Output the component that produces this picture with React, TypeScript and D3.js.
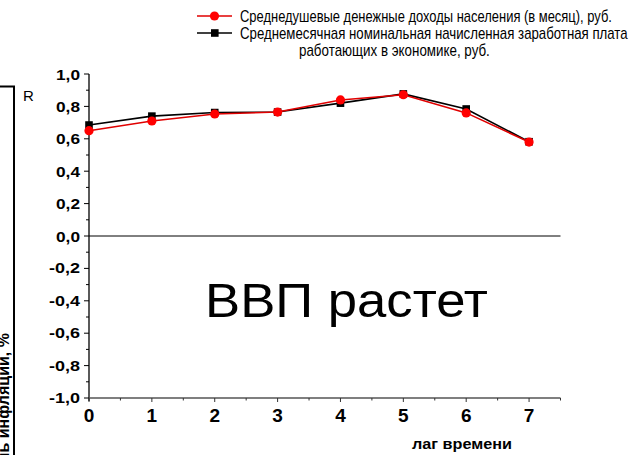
import React, { useLayoutEffect, useRef, useState } from "react";
import * as d3 from "d3";

const lags = [0, 1, 2, 3, 4, 5, 6, 7];
const incomeR = [0.65, 0.71, 0.753, 0.765, 0.84, 0.872, 0.76, 0.58];
const wageR = [0.685, 0.74, 0.762, 0.765, 0.82, 0.877, 0.784, 0.582];
const yTicks = [1.0, 0.8, 0.6, 0.4, 0.2, 0.0, -0.2, -0.4, -0.6, -0.8, -1.0];
const xTicks = [0, 1, 2, 3, 4, 5, 6, 7];
const legend1 = "Среднедушевые денежные доходы населения (в месяц), руб.";
const legend2a = "Среднемесячная номинальная начисленная заработная плата";
const legend2b = "работающих в экономике, руб.";
const yLabel = "R";
const xLabel = "лаг времени";
const bigText = "ВВП растет";
const sideText = "Уровень инфляции, %";

const FONT = "'Liberation Sans', Arial, sans-serif";

type FitProps = {
  x: number; y: number; width: number; anchor?: "start" | "middle" | "end";
  sy?: number; fontSize: number; fontWeight?: string; baseline?: string; children: string;
};

function FitText({ x, y, width, anchor = "start", sy = 1, fontSize, fontWeight, baseline, children }: FitProps) {
  const ref = useRef<SVGTextElement>(null);
  const [sx, setSx] = useState(1);
  useLayoutEffect(() => {
    if (ref.current) {
      const len = ref.current.getComputedTextLength();
      if (len > 0) setSx(width / len);
    }
  }, [width, children, fontSize]);
  return (
    <text ref={ref} transform={`translate(${x},${y}) scale(${sx},${sy})`} textAnchor={anchor}
      fontSize={fontSize} fontWeight={fontWeight} dominantBaseline={baseline}>
      {children}
    </text>
  );
}

export default function App() {
  const W = 644, H = 455;
  const x = d3.scaleLinear().domain([0, 7.5]).range([89, 560.5]);
  const y = d3.scaleLinear().domain([-1, 1]).range([398, 74]);
  const line = d3.line<number>().x((_, i) => x(lags[i])).y((d) => y(d));
  const fmt = (v: number) => v.toFixed(1).replace(".", ",");
  const minorY = d3.range(-10, 11).map((k) => k / 10);
  const minorX = d3.range(0, 16).map((k) => k / 2);

  return (
    <svg width={W} height={H} style={{ position: "absolute", left: 0, top: 0, background: "#fff" }} fontFamily={FONT}>
      <rect x={0} y={0} width={W} height={H} fill="#fff" />
      {/* left frame fragment */}
      <path d="M0,86.5 H14 V455" fill="none" stroke="#000" strokeWidth={2} />
      <text transform="translate(8.5,333) rotate(-90)" textAnchor="end" fontSize={16} fontWeight="bold">{sideText}</text>
      <text x={23} y={101} fontSize={15}>{yLabel}</text>

      {/* zero line */}
      <line x1={x(0)} x2={x(7.5)} y1={y(0)} y2={y(0)} stroke="#000" strokeWidth={1} />

      {/* y axis */}
      <line x1={x(0)} x2={x(0)} y1={y(1)} y2={y(-1) + 3} stroke="#000" strokeWidth={1.3} />
      {minorY.map((v, i) => (
        <line key={"my" + i} x1={x(0) - (i % 2 === 0 ? 5 : 3)} x2={x(0)} y1={y(v)} y2={y(v)} stroke="#000" strokeWidth={1} />
      ))}
      {yTicks.map((v, i) => (
        <FitText key={"yl" + i} x={80} y={y(v)} width={v < 0 ? 31 : 24} anchor="end" sy={0.82} fontSize={18.5} fontWeight="bold" baseline="central">
          {fmt(v)}
        </FitText>
      ))}

      {/* x axis */}
      <line x1={x(0)} x2={x(7.5)} y1={y(-1)} y2={y(-1)} stroke="#555" strokeWidth={1.5} />
      {minorX.map((v, i) => (
        <line key={"mx" + i} x1={x(v)} x2={x(v)} y1={y(-1)} y2={y(-1) + (i % 2 === 0 ? 4 : 2.5)} stroke="#333" strokeWidth={1} />
      ))}
      {xTicks.map((v, i) => (
        <text key={"xl" + i} x={x(v)} y={422} textAnchor="middle" fontSize={19} fontWeight="bold">{v}</text>
      ))}
      <FitText x={462} y={449} width={100} anchor="middle" fontSize={15} fontWeight="bold">{xLabel}</FitText>

      <FitText x={205} y={317} width={283} fontSize={49}>{bigText}</FitText>

      {/* series */}
      <path d={line(wageR) || ""} fill="none" stroke="#000" strokeWidth={1.6} />
      {wageR.map((v, i) => (
        <rect key={"ws" + i} x={x(lags[i]) - 3.8} y={y(v) - 3.8} width={7.6} height={7.6} fill="#000" />
      ))}
      <path d={line(incomeR) || ""} fill="none" stroke="#e00000" strokeWidth={1.6} />
      {incomeR.map((v, i) => (
        <circle key={"ic" + i} cx={x(lags[i])} cy={y(v)} r={4.6} fill="#ff0000" />
      ))}

      {/* legend */}
      <line x1={197} x2={232} y1={16} y2={16} stroke="#e00000" strokeWidth={1.6} />
      <circle cx={214.5} cy={16} r={4.6} fill="#ff0000" />
      <FitText x={240} y={21.5} width={372} fontSize={16}>{legend1}</FitText>
      <line x1={197} x2={232} y1={33} y2={33} stroke="#000" strokeWidth={1.6} />
      <rect x={211} y={29.2} width={7.6} height={7.6} fill="#000" />
      <FitText x={240} y={38.5} width={388} fontSize={16}>{legend2a}</FitText>
      <FitText x={299} y={56} width={191} fontSize={16}>{legend2b}</FitText>
    </svg>
  );
}
